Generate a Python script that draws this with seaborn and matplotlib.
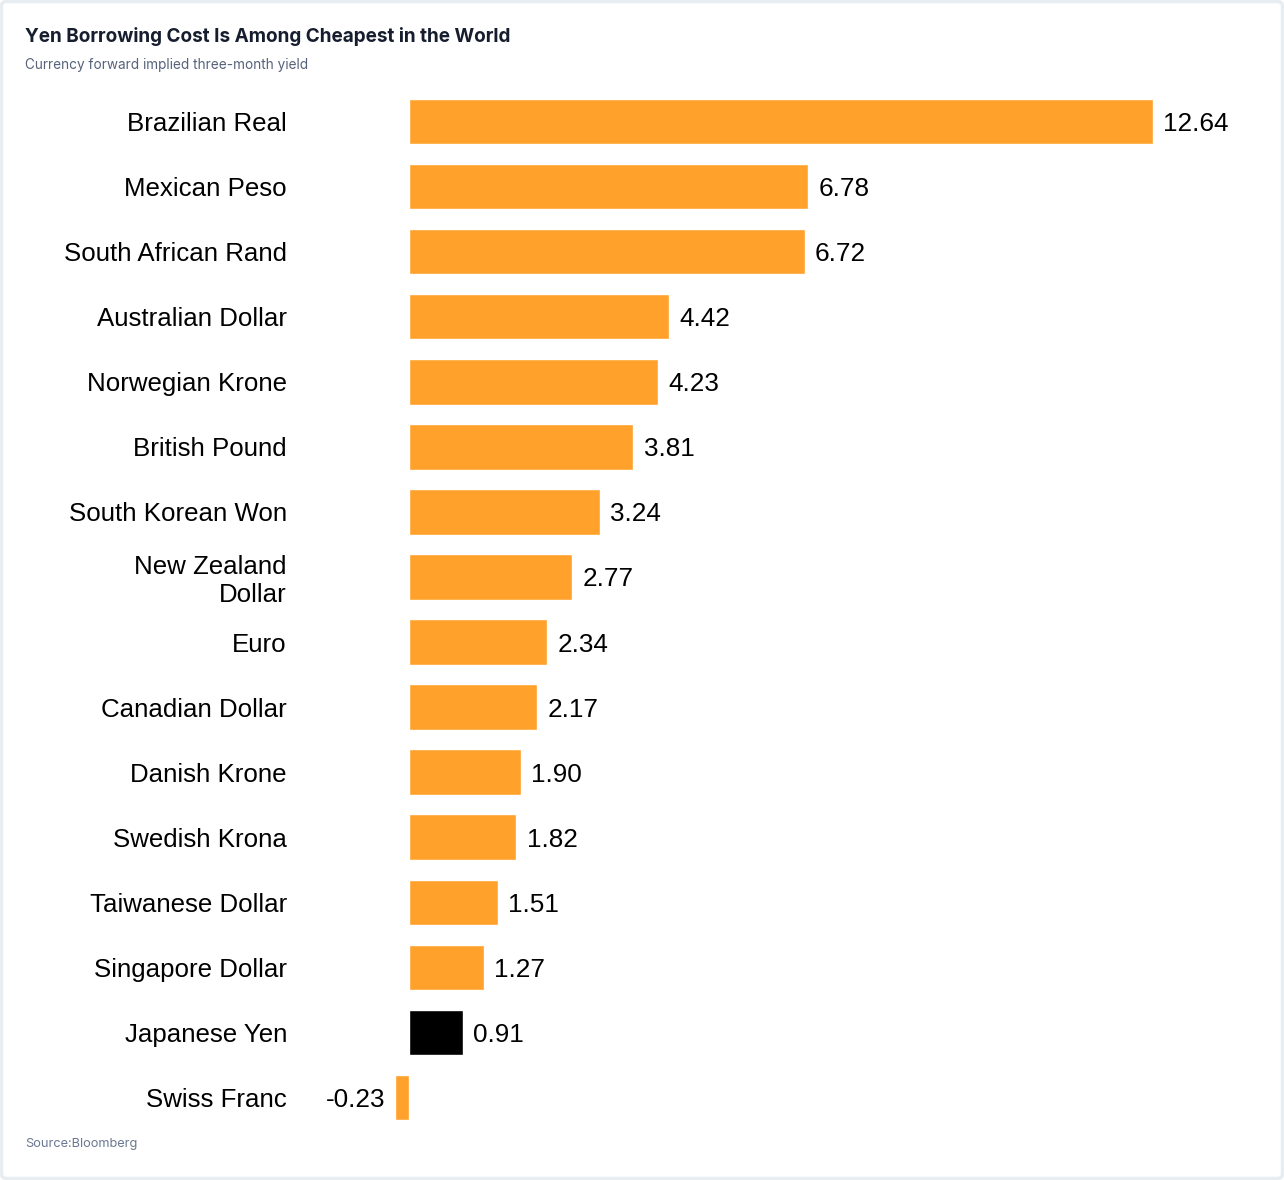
import matplotlib
matplotlib.use("Agg")
import matplotlib.pyplot as plt
import seaborn as sns
import pandas as pd
from matplotlib.patches import FancyBboxPatch

currencies = ["Brazilian Real", "Mexican Peso", "South African Rand", "Australian Dollar",
              "Norwegian Krone", "British Pound", "South Korean Won", "New Zealand\nDollar",
              "Euro", "Canadian Dollar", "Danish Krone", "Swedish Krona",
              "Taiwanese Dollar", "Singapore Dollar", "Japanese Yen", "Swiss Franc"]
yields = [12.64, 6.78, 6.72, 4.42, 4.23, 3.81, 3.24, 2.77, 2.34, 2.17, 1.90, 1.82,
          1.51, 1.27, 0.91, -0.23]
highlight = "Japanese Yen"

ORANGE = "#FFA12B"
BLACK = "#000000"

df = pd.DataFrame({"currency": currencies, "yield": yields})
palette = {c: (BLACK if c == highlight else ORANGE) for c in currencies}

sns.set_theme(style="white")
plt.rcParams["font.family"] = ["Liberation Sans", "DejaVu Sans"]

W, H = 1284, 1180
fig = plt.figure(figsize=(W / 100, H / 100), dpi=100)
fig.patch.set_facecolor("white")

# axes geometry in pixels
ax_left_px, ax_right_px = 300, 1260
row_top, row_step = 121.5, 65.07
n = len(currencies)
top_px = row_top - row_step / 2
bot_px = top_px + n * row_step
ax = fig.add_axes([ax_left_px / W, (H - bot_px) / H,
                   (ax_right_px - ax_left_px) / W, (bot_px - top_px) / H])

sns.barplot(data=df, y="currency", x="yield", hue="currency", palette=palette,
            order=currencies, hue_order=currencies, legend=False, orient="h",
            width=0.70, ax=ax, saturation=1)

zero_px = 409
scale = (1153 - 409) / 12.64
ax.set_xlim((ax_left_px - zero_px) / scale, (ax_right_px - zero_px) / scale)
ax.set_ylim(n - 0.5, -0.5)

for i, v in enumerate(yields):
    if v >= 0:
        ax.annotate(f"{v:.2f}", (v, i), xytext=(7.5, 0), textcoords="offset points",
                    ha="left", va="center_baseline", fontsize=18.8, color="black")
    else:
        ax.annotate(f"{v:.2f}", (v, i), xytext=(-7.5, 0), textcoords="offset points",
                    ha="right", va="center_baseline", fontsize=18.8, color="black")

ax.set_xlabel("")
ax.set_ylabel("")
ax.set_xticks([])
ax.tick_params(axis="y", length=0, pad=9.4, labelsize=18.6, labelcolor="black")
for lab in ax.get_yticklabels():
    lab.set_linespacing(1.2)
for s in ax.spines.values():
    s.set_visible(False)
ax.set_facecolor("none")

# titles
fig.text(25 / W, 1 - 36 / H, "Yen Borrowing Cost Is Among Cheapest in the World",
         fontsize=13.65, fontweight="bold", color="#161d2e", va="center", ha="left",
         family=["Inter", "DejaVu Sans"])
fig.text(25 / W, 1 - 65 / H, "Currency forward implied three-month yield",
         fontsize=9.8, color="#56627a", va="center", ha="left",
         family=["Inter", "DejaVu Sans"])
fig.text(25 / W, 1 - 1144 / H, "Source:Bloomberg",
         fontsize=9.2, color="#6a7891", va="center", ha="left",
         family=["Inter", "DejaVu Sans"])

# light border
border = FancyBboxPatch((1.5 / W, 1.5 / H), 1 - 3 / W, 1 - 3 / H,
                        boxstyle="round,pad=0,rounding_size=0.004",
                        transform=fig.transFigure, fill=False,
                        edgecolor="#e8edf1", linewidth=2.5)
fig.patches.append(border)

fig.savefig("out.png", dpi=100)
